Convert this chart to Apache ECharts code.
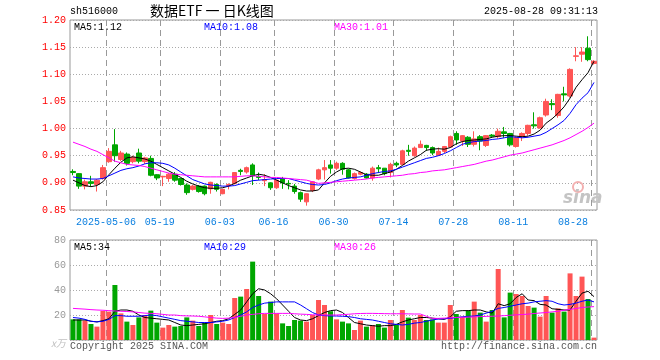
<!DOCTYPE html>
<html><head><meta charset="utf-8">
<script src="https://cdn.jsdelivr.net/npm/echarts@6/dist/echarts.min.js"></script>
<style>html,body{margin:0;padding:0;background:#fff}#c{width:660px;height:360px}</style>
</head><body><div id="c"></div>
<script>
const dates = ['2025-04-23','2025-04-24','2025-04-25','2025-04-28','2025-04-29','2025-04-30',
'2025-05-06','2025-05-07','2025-05-08','2025-05-09','2025-05-12','2025-05-13','2025-05-14','2025-05-15','2025-05-16',
'2025-05-19','2025-05-20','2025-05-21','2025-05-22','2025-05-23','2025-05-26','2025-05-27','2025-05-28','2025-05-29','2025-05-30',
'2025-06-03','2025-06-04','2025-06-05','2025-06-06','2025-06-09','2025-06-10','2025-06-11','2025-06-12','2025-06-13',
'2025-06-16','2025-06-17','2025-06-18','2025-06-19','2025-06-20','2025-06-23','2025-06-24','2025-06-25','2025-06-26','2025-06-27',
'2025-06-30','2025-07-01','2025-07-02','2025-07-03','2025-07-04','2025-07-07','2025-07-08','2025-07-09','2025-07-10','2025-07-11',
'2025-07-14','2025-07-15','2025-07-16','2025-07-17','2025-07-18','2025-07-21','2025-07-22','2025-07-23','2025-07-24','2025-07-25',
'2025-07-28','2025-07-29','2025-07-30','2025-07-31','2025-08-01','2025-08-04','2025-08-05','2025-08-06','2025-08-07','2025-08-08',
'2025-08-11','2025-08-12','2025-08-13','2025-08-14','2025-08-15','2025-08-18','2025-08-19','2025-08-20','2025-08-21','2025-08-22',
'2025-08-25','2025-08-26','2025-08-27','2025-08-28'];

const tickDates = ['2025-05-06','2025-05-19','2025-06-03','2025-06-16','2025-06-30','2025-07-14','2025-07-28','2025-08-11','2025-08-28'];
const tickTexts = ['2025-05-06','05-19','06-03','06-16','06-30','07-14','07-28','08-11','08-28'];
const priceTicks = [0.85, 1.20, 0.05];
const volTicks = [0, 80, 20];

const opens  = [0.921,0.917,0.894,0.902,0.897,0.908,0.939,0.970,0.943,0.953,0.939,0.955,0.939,0.945,0.915,0.911,0.908,0.916,0.908,0.896,0.888,0.894,0.894,0.889,0.897,0.880,0.895,0.899,0.923,0.920,0.933,0.912,0.904,0.900,0.891,0.908,0.899,0.894,0.882,0.865,0.886,0.907,0.924,0.933,0.927,0.936,0.924,0.908,0.916,0.916,0.909,0.928,0.927,0.919,0.936,0.934,0.960,0.950,0.965,0.969,0.965,0.951,0.958,0.966,0.991,0.977,0.984,0.971,0.985,0.969,0.988,0.985,0.994,0.991,0.967,0.985,0.991,1.007,1.001,1.025,1.046,1.024,1.064,1.060,1.133,1.137,1.148,1.120];
const closes = [0.919,0.894,0.902,0.899,0.905,0.928,0.958,0.950,0.955,0.936,0.947,0.940,0.946,0.914,0.909,0.912,0.916,0.905,0.897,0.882,0.894,0.884,0.880,0.901,0.888,0.888,0.897,0.919,0.921,0.928,0.913,0.910,0.906,0.891,0.905,0.900,0.898,0.884,0.870,0.880,0.902,0.924,0.928,0.927,0.936,0.925,0.909,0.917,0.919,0.909,0.927,0.926,0.917,0.934,0.933,0.959,0.958,0.964,0.971,0.965,0.955,0.958,0.967,0.985,0.979,0.987,0.971,0.981,0.977,0.987,0.986,0.995,0.991,0.970,0.983,0.991,1.006,1.005,1.020,1.050,1.044,1.063,1.062,1.109,1.134,1.141,1.127,1.124];
const lows   = [0.914,0.889,0.888,0.894,0.884,0.906,0.937,0.939,0.940,0.932,0.936,0.936,0.935,0.912,0.905,0.894,0.902,0.902,0.895,0.878,0.886,0.882,0.877,0.880,0.884,0.879,0.888,0.897,0.914,0.917,0.896,0.905,0.894,0.887,0.889,0.889,0.888,0.880,0.865,0.858,0.883,0.905,0.906,0.917,0.924,0.915,0.908,0.906,0.914,0.908,0.904,0.918,0.914,0.910,0.929,0.933,0.950,0.948,0.965,0.959,0.951,0.950,0.955,0.965,0.970,0.968,0.966,0.967,0.960,0.966,0.984,0.982,0.983,0.967,0.965,0.977,0.987,1.000,1.000,1.022,1.034,1.020,1.050,1.057,1.124,1.123,1.124,1.118];
const highs  = [0.925,0.918,0.906,0.913,0.907,0.933,0.964,0.999,0.959,0.956,0.950,0.963,0.948,0.950,0.916,0.913,0.918,0.920,0.909,0.899,0.896,0.896,0.895,0.902,0.899,0.889,0.899,0.920,0.926,0.930,0.936,0.919,0.916,0.901,0.906,0.911,0.905,0.898,0.884,0.881,0.903,0.926,0.942,0.942,0.939,0.938,0.926,0.919,0.921,0.918,0.930,0.933,0.927,0.937,0.939,0.961,0.970,0.967,0.978,0.970,0.967,0.965,0.968,0.987,0.995,0.988,0.986,0.995,0.988,0.988,0.990,1.000,1.003,0.992,0.985,0.993,1.007,1.030,1.022,1.055,1.054,1.064,1.077,1.111,1.150,1.150,1.170,1.126];

const ma5  = [0.905,0.900,0.895,0.893,0.895,0.902,0.915,0.927,0.938,0.946,0.948,0.946,0.944,0.940,0.934,0.928,0.922,0.916,0.910,0.903,0.898,0.894,0.891,0.890,0.890,0.891,0.894,0.899,0.905,0.909,0.913,0.916,0.914,0.910,0.905,0.900,0.895,0.891,0.887,0.885,0.885,0.887,0.900,0.912,0.920,0.926,0.927,0.925,0.920,0.915,0.914,0.914,0.917,0.920,0.925,0.932,0.940,0.946,0.952,0.960,0.962,0.963,0.962,0.965,0.972,0.976,0.978,0.979,0.980,0.981,0.984,0.986,0.987,0.987,0.986,0.985,0.986,0.990,0.997,1.010,1.018,1.028,1.040,1.056,1.076,1.090,1.103,1.124];
const ma10 = [0.911,0.909,0.908,0.907,0.907,0.908,0.913,0.918,0.923,0.926,0.928,0.931,0.935,0.937,0.937,0.936,0.933,0.927,0.920,0.913,0.906,0.902,0.898,0.896,0.895,0.894,0.894,0.895,0.898,0.901,0.904,0.905,0.906,0.907,0.908,0.908,0.908,0.905,0.902,0.899,0.897,0.896,0.897,0.900,0.904,0.907,0.909,0.910,0.911,0.914,0.917,0.919,0.921,0.922,0.925,0.929,0.933,0.937,0.941,0.945,0.947,0.950,0.954,0.959,0.965,0.971,0.974,0.976,0.977,0.978,0.980,0.981,0.983,0.985,0.984,0.983,0.984,0.986,0.988,0.993,1.000,1.007,1.015,1.028,1.044,1.056,1.066,1.085];
const ma30 = [0.975,0.971,0.967,0.962,0.958,0.952,0.946,0.940,0.937,0.934,0.933,0.932,0.930,0.927,0.924,0.921,0.918,0.916,0.915,0.914,0.913,0.912,0.911,0.911,0.911,0.911,0.911,0.911,0.912,0.913,0.913,0.912,0.911,0.910,0.910,0.909,0.908,0.907,0.906,0.905,0.902,0.899,0.900,0.901,0.902,0.903,0.904,0.905,0.906,0.907,0.909,0.910,0.911,0.912,0.913,0.914,0.916,0.917,0.919,0.920,0.922,0.923,0.924,0.926,0.928,0.930,0.932,0.934,0.937,0.940,0.942,0.945,0.948,0.951,0.953,0.955,0.958,0.961,0.964,0.967,0.970,0.974,0.978,0.983,0.989,0.995,1.002,1.010];

const volumes = [16.5,16.5,15.5,12.8,10.7,23.2,22.7,44,21.3,14.7,12,18.1,20,23.5,13.9,9.9,12,10.7,11.2,18.1,15.5,11.2,13.9,20,12.8,13.9,12.8,33.6,34.7,40.8,62.7,35.2,20.8,30.7,21.3,13.3,11.2,16,15.5,14.7,20,32,28,23,16.5,14.7,13.3,8,15.5,10.7,12,12.8,9.9,16,12,24,17.9,16,20,16,16.5,13.9,13.9,28,20.8,18.7,23.5,30.7,21.9,14.7,24,56.8,18.1,37.9,36.8,35.2,27.2,25.9,18.7,35.2,21.9,25.3,22.7,53.3,35.2,50.7,32.8,1.9];
const volMa5  = [16,16,16,15,14.5,15.5,17,23,24,24,23,20,18,17.5,17,16.5,16,14,12,11.5,12,12.5,13,14,15,15.5,17,20.5,24,30.5,37,41,40,37,33,28,23,18,16,15.5,17,19.5,22,23.5,24,22,18,14,13,12,11.5,11,11.5,11.5,12.5,14.5,16,17,18,18,17.5,17,16.5,18.5,23,23.5,23.5,24,24,22.5,21.5,29,27.5,29,34,37,32,31.5,28.5,28,25,24.5,24,24,31,37.5,39,34.7];
const volMa10 = [18,17.5,16.5,15,14.5,15,16.5,19.5,19.5,19,19,19,19.5,20,19.5,18.5,17.5,16.5,15.5,15,14.5,14,14,14,14.5,15,16,18,20,22.5,26,28,29.5,30,30.5,30.5,30.5,30.5,28,25,22,20,19.5,19.2,19.2,19,18.7,18,17,16.5,16,15,14,13,12.5,12,12.5,13.5,14,15,16,16.8,17,17.3,18,18.5,19,19.2,20,21.5,23,25.3,26,27,28,29,29.5,30.5,31,31.5,31,29,28,28.5,29.5,31,32,30.5];
const volMa30 = [25.3,25,24.7,24.3,24,23.8,23.5,23.2,23,22.8,22.5,22,21.5,21.3,21,20.5,20,20,19.5,19.3,19.2,19,18.5,18,17.5,17.3,17.5,18,19,20,20.5,21,21.3,21.3,21.3,21.3,21.3,21,20.7,20.5,20.2,20,20,20,20,20.3,20.6,21,21.2,21.3,21.3,21.2,21.1,21,21,21,20.9,20.8,20.8,19,17.3,17.3,17.5,17.8,18,18.1,18.3,18.5,18.7,18.9,19,19.2,19.5,19.8,20.1,20.4,20.7,21.2,21.6,22,22.5,23,23.8,24.5,25.2,26,26.4,26.7];

const RED = '#FF5555', GREEN = '#00A600';
const MONO = '"Liberation Mono","DejaVu Sans Mono",monospace';
const tickIdx = tickDates.map(d => dates.indexOf(d));
const tickSet = new Set(tickIdx);
const kData = dates.map((d, i) => [opens[i], closes[i], lows[i], highs[i]]);
const volData = volumes.map((v, i) => ({value: v, itemStyle: {color: closes[i] >= opens[i] ? RED : GREEN}}));
const labelMap = {}; tickDates.forEach((d, i) => labelMap[d] = tickTexts[i]);

const hSplit = {show: true, lineStyle: {color: '#aaa', type: [1, 2], width: 1}};

// vertical dashed date lines at the left edge of each labelled date's band
const dateLines = (gi, yBase) => ({
  type: 'custom', xAxisIndex: gi, yAxisIndex: gi, silent: true, z: 2,
  data: tickIdx.map(i => [i, yBase]),
  renderItem: (params, api) => {
    const cx = api.coord([api.value(0), api.value(1)])[0];
    const bw = api.size([1, 0])[0];
    const x = Math.round(cx - bw / 2) + 0.5;
    const cs = params.coordSys;
    return {type: 'line', shape: {x1: x, y1: cs.y, x2: x, y2: cs.y + cs.height},
      style: {stroke: '#999', lineDash: [6, 4], lineWidth: 1}};
  }
});

const chart = echarts.init(document.getElementById('c'));
const mline = (name, data, color, xi) => ({name, type: 'line', data, xAxisIndex: xi, yAxisIndex: xi, symbol: 'none', silent: true,
  lineStyle: {color, width: 1}, itemStyle: {color}, z: 5});
const txt = (x, y, text, fill) => ({type: 'text', left: x, top: y, style: {text, fill, font: '10px ' + MONO}});

chart.setOption({
  animation: false,
  backgroundColor: '#fff',
  grid: [
    {left: 70, top: 20, width: 527, height: 190, show: true, borderColor: '#999', borderWidth: 1},
    {left: 70, top: 240, width: 527, height: 100, show: true, borderColor: '#999', borderWidth: 1}
  ],
  xAxis: [
    {type: 'category', gridIndex: 0, data: dates, boundaryGap: true,
     axisLine: {show: false}, axisTick: {show: false}, splitLine: {show: false},
     axisLabel: {interval: (i) => tickSet.has(i), formatter: v => labelMap[v] || '', color: '#0A7FE0',
       fontFamily: MONO, fontSize: 10, margin: 7, padding: [0, 6, 0, 0], alignMaxLabel: 'right', hideOverlap: false}},
    {type: 'category', gridIndex: 1, data: dates, boundaryGap: true,
     axisLine: {show: false}, axisTick: {show: false}, splitLine: {show: false}, axisLabel: {show: false}}
  ],
  yAxis: [
    {type: 'value', gridIndex: 0, min: priceTicks[0], max: priceTicks[1], interval: priceTicks[2],
     axisLine: {show: false}, axisTick: {show: false}, splitLine: hSplit,
     axisLabel: {color: '#FF0000', fontFamily: MONO, fontSize: 10, margin: 4, formatter: v => v.toFixed(2)}},
    {type: 'value', gridIndex: 1, min: volTicks[0], max: volTicks[1], interval: volTicks[2],
     axisLine: {show: false}, axisTick: {show: false}, splitLine: hSplit,
     axisLabel: {color: '#999', fontFamily: MONO, fontSize: 10, margin: 4,
       formatter: v => v === 0 ? '{u|x万}' : String(v),
       rich: {u: {color: '#c0c0c0', fontSize: 10, fontStyle: 'italic', fontFamily: '"Noto Sans CJK SC",sans-serif', padding: [6, 0, 0, 0]}}}}
  ],
  series: [
    dateLines(0, priceTicks[0]),
    dateLines(1, volTicks[0]),
    {type: 'candlestick', data: kData, xAxisIndex: 0, yAxisIndex: 0, barWidth: 5, silent: true, z: 3,
     itemStyle: {color: RED, color0: GREEN, borderColor: RED, borderColor0: GREEN, borderWidth: 1}},
    mline('MA5', ma5, '#000000', 0),
    mline('MA10', ma10, '#0000FF', 0),
    mline('MA30', ma30, '#FF00FF', 0),
    {type: 'bar', data: volData, xAxisIndex: 1, yAxisIndex: 1, barWidth: 5, silent: true, z: 3},
    mline('VMA5', volMa5, '#000000', 1),
    mline('VMA10', volMa10, '#0000FF', 1),
    mline('VMA30', volMa30, '#FF00FF', 1)
  ],
  graphic: [
    txt(70, 6, 'sh516000', '#000'),
    {type: 'text', left: 150, top: 4, style: {text: '数据ETF 一 日K线图', fill: '#000', font: '14px "Noto Sans CJK SC",sans-serif'}},
    {type: 'text', right: 62, top: 6, style: {text: '2025-08-28 09:31:13', fill: '#000', font: '10px ' + MONO}},
    txt(74, 22, 'MA5:1.12', '#000'),
    txt(204, 22, 'MA10:1.08', '#0000FF'),
    txt(334, 22, 'MA30:1.01', '#FF00FF'),
    txt(74, 242, 'MA5:34', '#000'),
    txt(204, 242, 'MA10:29', '#0000FF'),
    txt(334, 242, 'MA30:26', '#FF00FF'),
    txt(70, 341, 'Copyright 2025 SINA.COM', '#555'),
    {type: 'text', right: 63, top: 341, style: {text: 'http://finance.sina.com.cn', fill: '#555', font: '10px ' + MONO}},
    {type: 'circle', shape: {cx: 578, cy: 187, r: 5}, style: {fill: 'none', stroke: '#f3b0b0', lineWidth: 2}, z: 1},
    {type: 'text', left: 563, top: 190, style: {text: 'sina', fill: '#c4c4c4', font: 'italic bold 17px "DejaVu Sans",sans-serif'}, z: 1}
  ]
});
</script></body></html>
